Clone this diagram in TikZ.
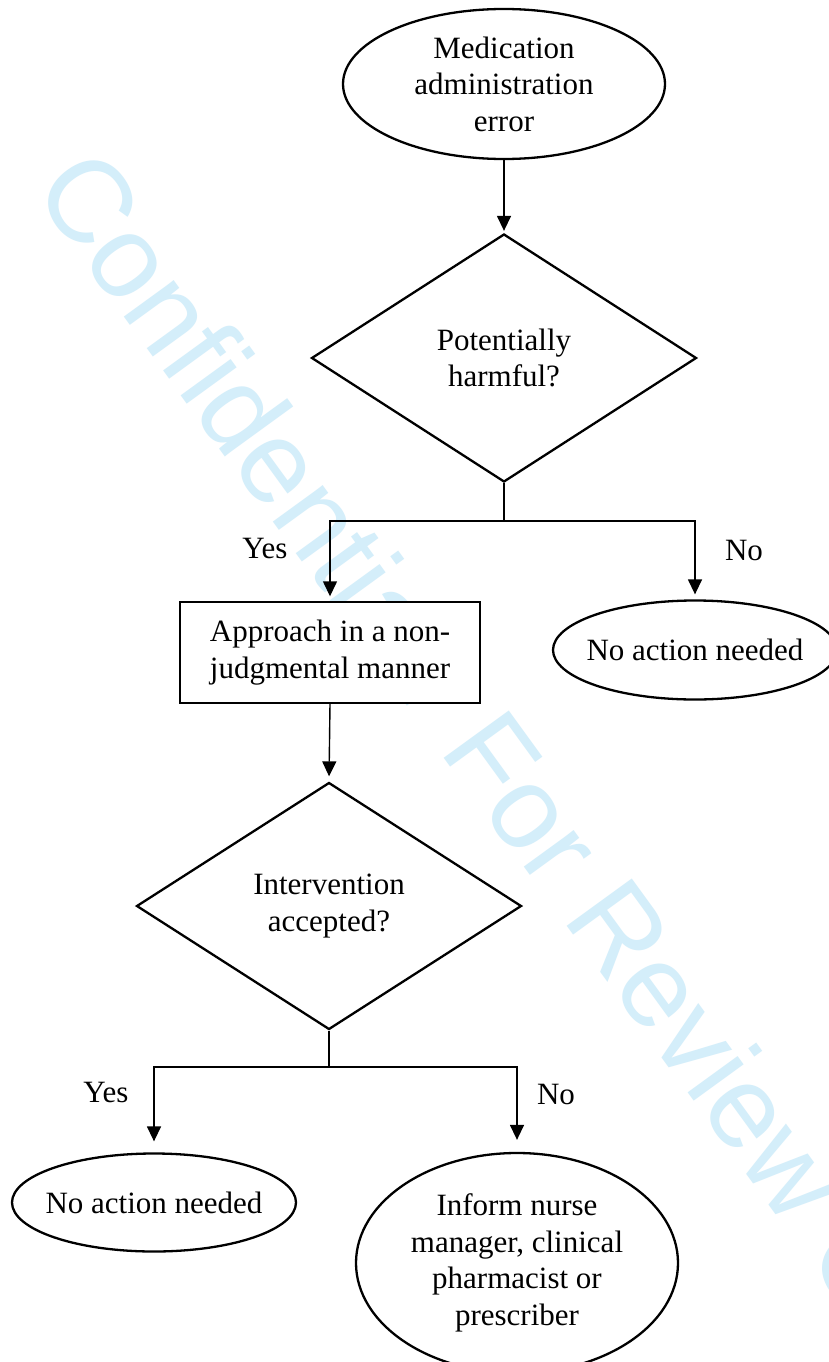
\documentclass[tikz,border=0pt]{standalone}
\usepackage{fontspec}
\setmainfont{Liberation Serif}
\newfontfamily\wmfont{Liberation Sans}
\usetikzlibrary{shapes.geometric,arrows.meta}
\definecolor{wmblue}{RGB}{212,238,250}
\newcommand\mainsz{\fontsize{31}{36.5}\selectfont}
\begin{document}
\begin{tikzpicture}[x=1pt,y=-1pt,
  shapeline/.style={draw=black, fill=white, line width=2.3pt},
  term/.style={ellipse, shapeline, inner sep=0pt, align=center, font=\mainsz},
  decision/.style={diamond, shapeline, inner sep=0pt, align=center, font=\mainsz},
  procbox/.style={rectangle, draw=black, fill=white, line width=1.4pt, inner sep=0pt, align=center, font=\mainsz},
  conn/.style={line width=1.4pt},
  arr/.style={conn, -{Triangle[length=15pt,width=14pt]}},
  lbl/.style={font=\mainsz, inner sep=0pt},
  wm/.style={text=wmblue, inner sep=0pt, font={\wmfont\fontsize{117}{120}\selectfont}}]
\useasboundingbox (0,0) rectangle (829,1362);
\fill[white] (0,0) rectangle (829,1362);
\clip (0,0) rectangle (829,1362);
% watermark
\node[wm, rotate=-54, anchor=base west] (wmark) at (31,189) {Confidential. For Review Only};
% nodes
\node[term, minimum width=322pt, minimum height=150pt] (start) at (504,84)
  {Medication\\administration\\error};
\node[decision, minimum width=385pt, minimum height=248pt] (d1) at (504,358)
  {Potentially\\harmful?};
\node[procbox, minimum width=300pt, minimum height=101pt] (approach) at (330,652.5)
  {Approach in a non-\\judgmental manner};
\node[term, minimum width=284pt, minimum height=99pt] (noact1) at (695,650)
  {\makebox[0pt][c]{No action needed}};
\node[decision, minimum width=385pt, minimum height=247pt] (d2) at (329,906)
  {Intervention\\accepted?};
\node[term, minimum width=284pt, minimum height=98pt] (noact2) at (154,1202.5)
  {\makebox[0pt][c]{No action needed}};
\node[term, minimum width=322pt, minimum height=220pt] (inform) at (517,1263)
  {Inform nurse\\manager, clinical\\pharmacist or\\prescriber};
% junctions
\coordinate (j1) at (504,521);
\coordinate (j2) at (329,1067);
% labels
\node[lbl] (yes1) at (265,548) {Yes};
\node[lbl] (no1) at (744,550) {No};
\node[lbl] (yes2) at (106,1092) {Yes};
\node[lbl] (no2) at (556,1094) {No};
% connectors
\draw[arr, shorten >=2pt] (start.south) -- (d1.north);
\draw[conn] (d1.south) -- (j1);
\draw[arr, shorten >=5pt] (j1) -| (approach.north);
\draw[arr, shorten >=5pt] (j1) -| (noact1.north);
\draw[arr, shorten >=5pt] (approach.south) -- (d2.north);
\draw[conn] (d2.south) -- (j2);
\draw[arr, shorten >=11pt] (j2) -| (noact2.north);
\draw[arr, shorten >=12pt] (j2) -| (inform.north);
\end{tikzpicture}
\end{document}
